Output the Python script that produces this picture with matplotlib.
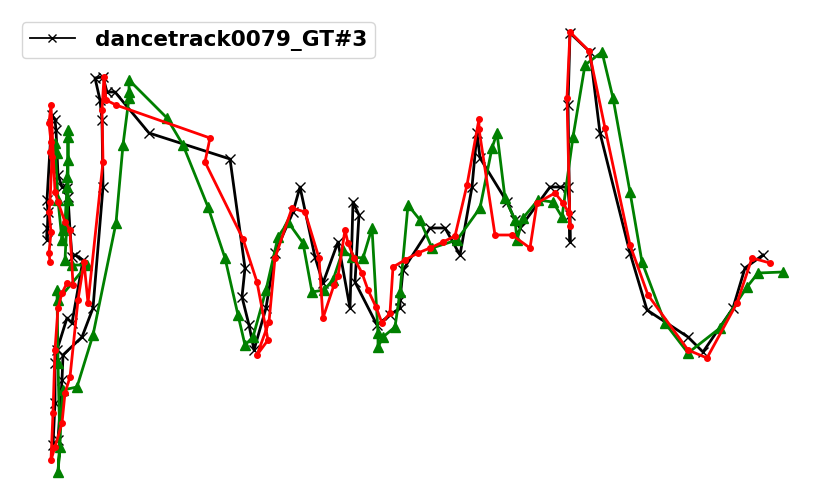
import matplotlib
matplotlib.use('Agg')
import matplotlib.pyplot as plt

# track centres (image pixel coords)
gt_x = [47, 47, 48, 47, 52, 55, 56, 58, 62, 67, 68, 70, 72, 75, 83, 72, 67, 57, 55, 55, 53, 58, 62, 63,
        82, 93, 103, 102, 100, 95, 103, 107, 115, 149, 230, 245, 242, 249, 254, 266, 275, 293, 300,
        315, 323, 338, 350, 353, 359, 355, 377, 390, 400, 400, 403, 430, 445, 460, 472, 477, 480,
        507, 515, 520, 550, 560, 568, 570, 570, 568, 570, 590, 600, 630, 647, 688, 703, 733, 745, 763]
gt_y = [228, 240, 212, 200, 115, 120, 130, 175, 187, 188, 197, 230, 257, 255, 260, 323, 318, 350, 363,
        403, 445, 440, 380, 355, 337, 308, 187, 120, 100, 78, 77, 92, 92, 133, 159, 268, 297, 325, 350,
        308, 253, 212, 187, 257, 283, 242, 308, 202, 215, 282, 325, 315, 308, 300, 270, 228, 228, 255,
        187, 133, 158, 202, 220, 228, 187, 187, 187, 215, 242, 105, 33, 52, 133, 253, 310, 337, 352,
        308, 268, 255]

red_x = [50, 49, 51, 49, 50, 52, 50, 51, 49, 51, 55, 58, 65, 70, 73, 67, 62, 58, 55, 53, 51, 55, 62,
         65, 70, 78, 84, 88, 103, 102, 104, 106, 116, 210, 205, 243, 257, 268, 257, 269, 275, 292, 305,
         319, 323, 334, 338, 345, 348, 354, 362, 368, 376, 382, 390, 393, 405, 418, 430, 443, 455, 467,
         479, 479, 495, 512, 530, 537, 555, 563, 569, 570, 567, 570, 589, 605, 630, 648, 688, 707, 737,
         752, 770]
red_y = [262, 253, 232, 212, 202, 157, 152, 142, 123, 105, 192, 202, 222, 230, 285, 283, 293, 308, 350,
         413, 460, 447, 423, 393, 377, 300, 262, 303, 162, 110, 77, 100, 105, 138, 162, 239, 282, 340,
         355, 322, 258, 208, 212, 258, 318, 285, 276, 230, 243, 258, 273, 290, 307, 323, 313, 267, 260,
         253, 248, 242, 236, 185, 119, 129, 235, 235, 248, 203, 193, 203, 213, 226, 98, 32, 51, 128, 245,
         295, 350, 358, 303, 258, 263]

pred_x = [57, 55, 58, 62, 63, 65, 67, 67, 68, 68, 68, 68, 65, 72, 87, 58, 57, 58, 60, 58, 63, 77, 93,
          116, 123, 129, 129, 129, 167, 183, 208, 225, 238, 245, 253, 266, 278, 288, 303, 312, 324, 333,
          343, 352, 363, 372, 378, 378, 383, 395, 400, 408, 420, 432, 457, 480, 492, 497, 505, 515, 517,
          523, 538, 553, 562, 573, 585, 602, 613, 630, 642, 665, 688, 720, 747, 758, 783]
pred_y = [153, 143, 200, 240, 230, 223, 187, 177, 160, 137, 130, 200, 260, 265, 265, 300, 290, 363, 447,
          472, 390, 387, 335, 223, 145, 98, 92, 80, 118, 145, 207, 258, 315, 345, 337, 290, 237, 222, 243,
          292, 290, 280, 250, 257, 258, 228, 333, 347, 337, 327, 292, 205, 220, 248, 240, 208, 148, 133,
          198, 220, 240, 218, 200, 202, 217, 137, 65, 52, 98, 192, 262, 323, 353, 328, 287, 273, 272]

fig = plt.figure(figsize=(8.31, 5.04), dpi=100)
ax = fig.add_axes([0, 0, 1, 1])
ax.plot(gt_x, gt_y, color='black', marker='x', markersize=7, linewidth=2, label='dancetrack0079_GT#3')
ax.plot(pred_x, pred_y, color='green', marker='^', markersize=7, linewidth=2)
ax.plot(red_x, red_y, color='red', marker='o', markersize=4, linewidth=2)
ax.set_xlim(0, 831)
ax.set_ylim(504, 0)
ax.axis('off')
leg = ax.legend(loc='upper left', bbox_to_anchor=(0.0265, 0.956), prop={'weight': 'bold', 'size': 15.6},
                handlelength=2.1, handletextpad=0.9, borderpad=0.35, borderaxespad=0)
leg.legend_handles[0].set_linewidth(1.3)
leg.legend_handles[0].set_markersize(6)
fig.savefig('out.png', dpi=100)
